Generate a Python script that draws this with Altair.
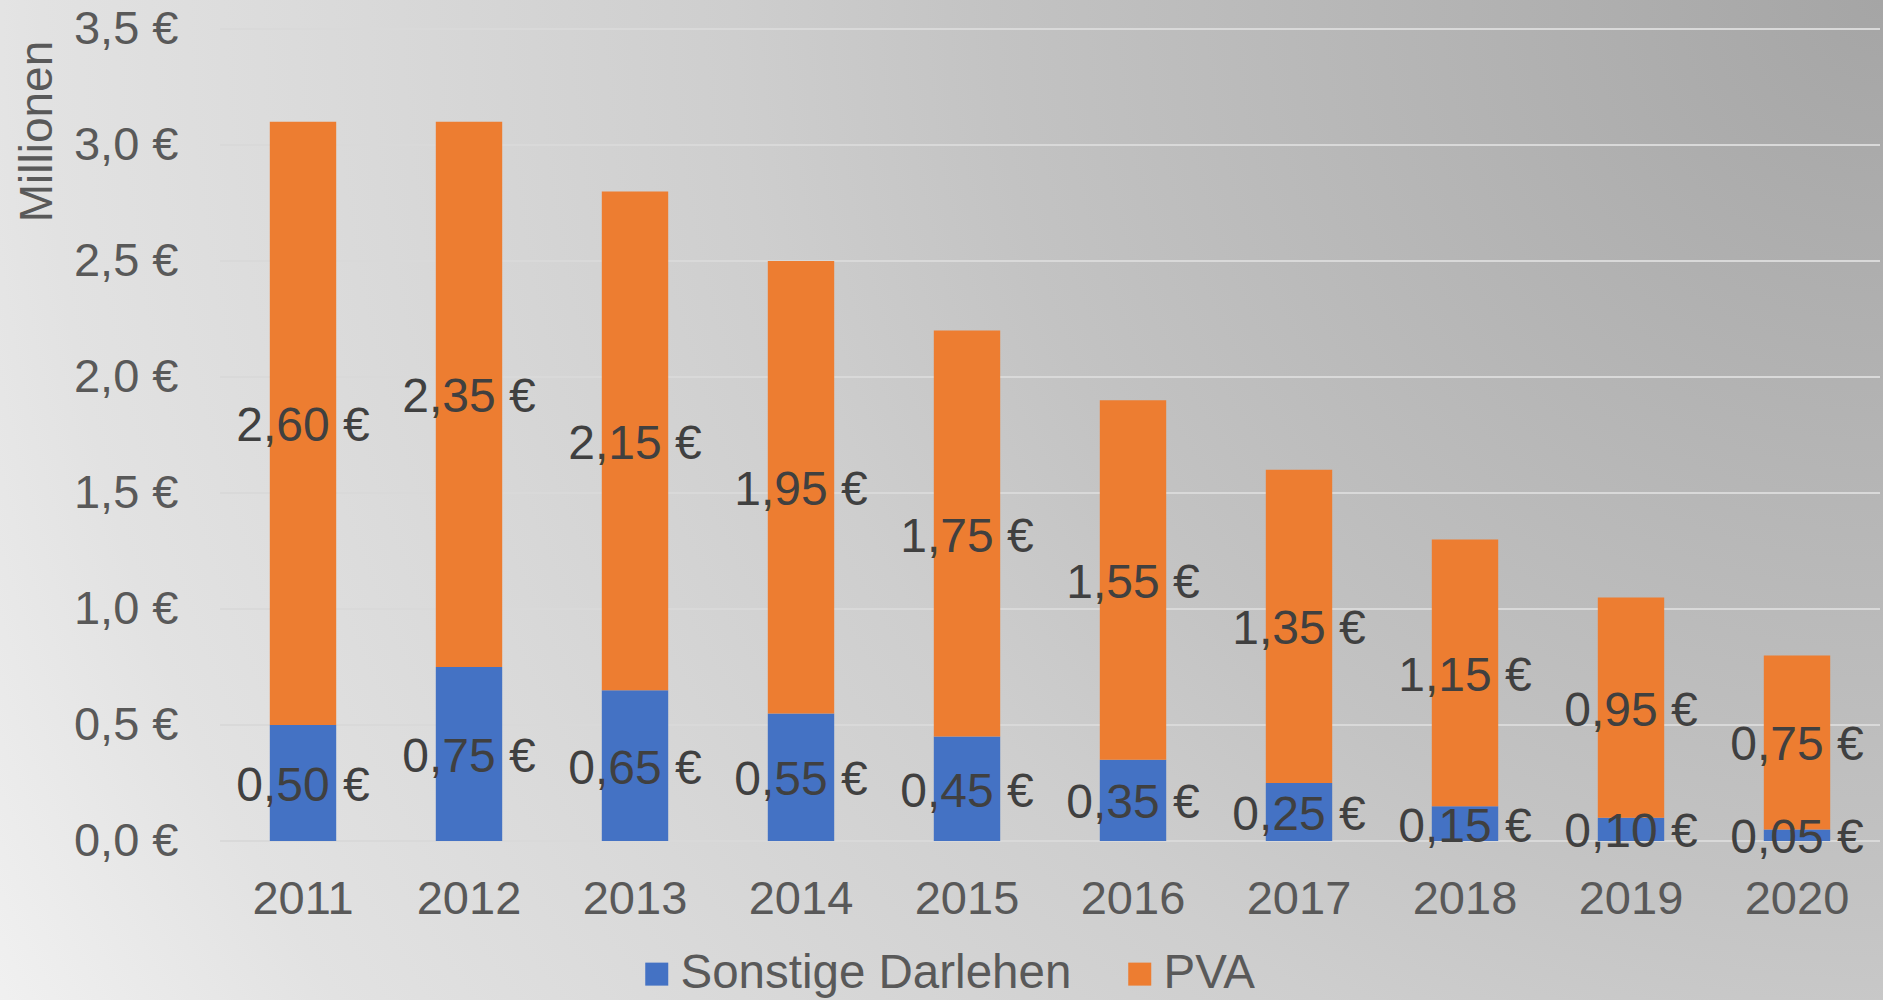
import altair as alt
import pandas as pd

# ---- data ----
years = ["2011", "2012", "2013", "2014", "2015", "2016", "2017", "2018", "2019", "2020"]
sonstige = [0.50, 0.75, 0.65, 0.55, 0.45, 0.35, 0.25, 0.15, 0.10, 0.05]
pva = [2.60, 2.35, 2.15, 1.95, 1.75, 1.55, 1.35, 1.15, 0.95, 0.75]
series_names = ["Sonstige Darlehen", "PVA"]
series_colors = ["#4472C4", "#ED7D31"]
y_ticks = [0.0, 0.5, 1.0, 1.5, 2.0, 2.5, 3.0, 3.5]

FONT = "Liberation Sans"
W, H = 1660, 812
PAD_L, PAD_T, PAD_R, PAD_B = 220, 29, 3, 159
TOTAL_W, TOTAL_H = 1883, 1000

rows = []
for i, yr in enumerate(years):
    rows.append({"year": yr, "series": series_names[0], "order": 0, "value": sonstige[i]})
    rows.append({"year": yr, "series": series_names[1], "order": 1, "value": pva[i]})
df = pd.DataFrame(rows)
df["label"] = df["value"].map(lambda v: f"{v:.2f}".replace(".", ",") + " €")

grid_df = pd.DataFrame({"t": y_ticks})

y_scale = alt.Scale(domain=[0, 3.5], nice=False, zero=True)
x_scale = alt.Scale(paddingInner=0.6, paddingOuter=0.3)

y_axis = alt.Axis(
    values=y_ticks,
    labelExpr="replace(format(datum.value, '.1f'), '.', ',') + ' €'",
    labelFontSize=47, labelColor="#595959", labelFont=FONT, labelPadding=42,
    ticks=False, tickSize=0, domain=False, grid=False, zindex=1,
    titleFontSize=46, titleColor="#595959", titleFont=FONT, titleFontWeight="normal",
    titleAngle=270, titleX=-183, titleY=102, titleAlign="center", titleBaseline="middle",
)

# background radial gradient (dark in top-right corner)
bg_fill = alt.RadialGradient(
    gradient="radial",
    x1=1, y1=0.2345, r1=0,
    x2=1, y2=0.2345, r2=1.15,
    stops=[
        alt.GradientStop(color="#a5a5a5", offset=0),
        alt.GradientStop(color="#b8b8b8", offset=0.26),
        alt.GradientStop(color="#c3c3c3", offset=0.41),
        alt.GradientStop(color="#cecece", offset=0.53),
        alt.GradientStop(color="#d9d9d9", offset=0.70),
        alt.GradientStop(color="#e2e2e2", offset=0.85),
        alt.GradientStop(color="#f2f2f2", offset=1),
    ],
)
bg = alt.Chart(pd.DataFrame({"a": [0]})).mark_rect(fill=bg_fill, strokeWidth=0).encode(
    x=alt.value(-PAD_L), x2=alt.value(TOTAL_W - PAD_L),
    y=alt.value(-PAD_T), y2=alt.value(TOTAL_H - PAD_T),
)

grid = alt.Chart(grid_df).mark_rule(color="#d9d9d9", strokeWidth=2).encode(
    y=alt.Y("t:Q", scale=y_scale, axis=y_axis, title="Millionen")
)

base = alt.Chart(df).transform_stack(
    stack="value", groupby=["year"],
    sort=[alt.SortField("order", order="ascending")],
    as_=["v0", "v1"],
).transform_calculate(mid="(datum.v0 + datum.v1) / 2")

x_enc = alt.X(
    "year:N", title=None, sort=years, scale=x_scale,
    axis=alt.Axis(
        labelFontSize=47, labelColor="#595959", labelFont=FONT, labelPadding=35,
        ticks=False, tickSize=0, domain=False, grid=False, labelAngle=0, zindex=1,
    ),
)

bars = base.mark_bar().encode(
    x=x_enc,
    y=alt.Y("v0:Q", scale=y_scale, title="Millionen", axis=y_axis),
    y2="v1:Q",
    color=alt.Color(
        "series:N",
        scale=alt.Scale(domain=series_names, range=series_colors),
        sort=series_names,
        legend=alt.Legend(
            title=None, orient="none", legendX=413, legendY=921, direction="horizontal",
            symbolType="square", symbolSize=529, symbolStrokeWidth=0,
            labelFontSize=47.5, labelColor="#595959", labelFont=FONT, labelOffset=0,
            labelLimit=1000, columnPadding=44, padding=0, zindex=1,
        ),
    ),
)

labels = base.mark_text(
    fontSize=48, color="#404040", font=FONT, align="center", baseline="middle", dy=4
).encode(
    x=alt.X("year:N", sort=years, scale=x_scale),
    y=alt.Y("mid:Q", scale=y_scale, axis=y_axis, title="Millionen"),
    text="label:N",
)

chart = alt.layer(bg, grid, bars, labels).properties(
    width=W, height=H,
    autosize=alt.AutoSizeParams(type="none"),
    padding={"left": PAD_L, "top": PAD_T, "right": PAD_R, "bottom": PAD_B},
    background="#dcdcdc",
).configure_view(stroke=None).configure(font=FONT)

chart.save("out.html", embed_options={"renderer": "svg", "actions": False})
